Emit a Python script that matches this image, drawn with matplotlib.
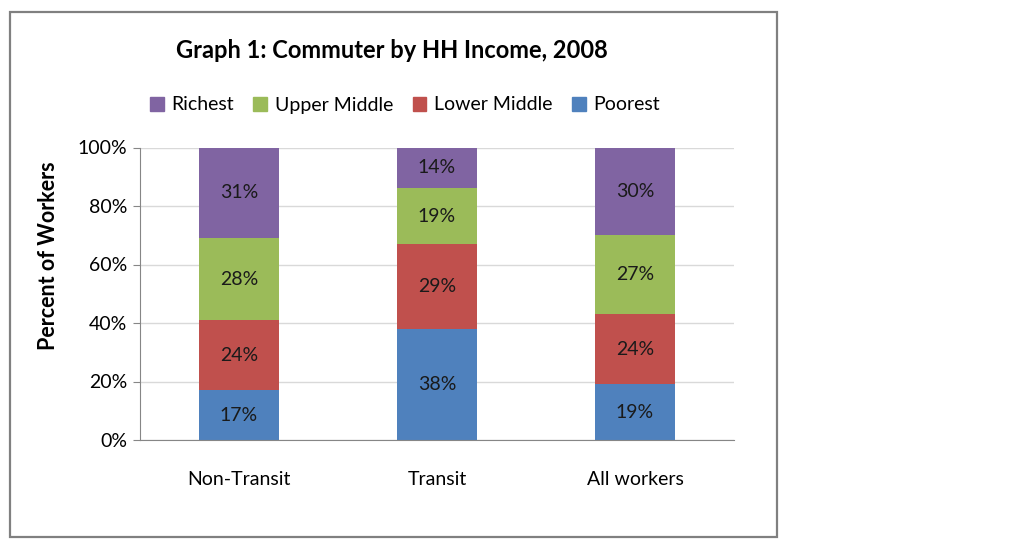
import matplotlib.pyplot as plt
from matplotlib.patches import Rectangle, Patch

plt.rcParams["font.family"] = ["Lato", "DejaVu Sans"]

categories = ["Non-Transit", "Transit", "All workers"]
poorest = [17, 38, 19]
lower_middle = [24, 29, 24]
upper_middle = [28, 19, 27]
richest = [31, 14, 30]

series = [
    ("Poorest", poorest, "#4F81BD"),
    ("Lower Middle", lower_middle, "#C0504D"),
    ("Upper Middle", upper_middle, "#9BBB59"),
    ("Richest", richest, "#8064A2"),
]

W, H = 1017, 551
fig = plt.figure(figsize=(W / 100, H / 100), dpi=100)
ax = fig.add_axes([140 / W, 1 - 440 / H, 594 / W, 292.5 / H])

x = range(len(categories))
bottom = [0] * len(categories)
for name, vals, color in series:
    ax.bar(x, vals, width=0.40, bottom=bottom, color=color, zorder=2)
    for i, v in enumerate(vals):
        ax.text(i, bottom[i] + v / 2, f"{v}%", ha="center", va="center",
                fontsize=14, color="#1a1a1a", zorder=3)
    bottom = [b + v for b, v in zip(bottom, vals)]

ax.set_xlim(-0.5, 2.5)
ax.set_ylim(0, 100)
ax.set_yticks(range(0, 101, 20))
ax.set_yticklabels([f"{t}%" for t in range(0, 101, 20)], fontsize=14)
ax.set_xticks(list(x))
ax.set_xticklabels(categories, fontsize=14)
ax.tick_params(axis="x", length=0, pad=22)
ax.tick_params(axis="y", length=5, color="#868686", pad=4)
ax.yaxis.grid(True, color="#D9D9D9", lw=1, zorder=0)
for s in ("top", "right"):
    ax.spines[s].set_visible(False)
for s in ("left", "bottom"):
    ax.spines[s].set_color("#868686")
ax.set_ylabel("Percent of Workers", fontsize=15.5, fontweight="bold")
ax.yaxis.set_label_coords(-0.137, 0.63)

fig.text(392 / W, 1 - 50 / H, "Graph 1: Commuter by HH Income, 2008",
         ha="center", va="center", fontsize=17, fontweight="bold")

handles = [Patch(color=c, label=n) for n, _, c in reversed(series)]
fig.legend(handles=handles, loc="center", bbox_to_anchor=(405 / W, 1 - 105 / H),
           ncol=4, frameon=False, fontsize=14, handlelength=0.7,
           handleheight=0.7, handletextpad=0.4, columnspacing=1.0)

fig.patches.append(Rectangle((10 / W, 1 - 537 / H), 767 / W, 525 / H,
                             transform=fig.transFigure, fill=False,
                             edgecolor="#808080", lw=1.6))

fig.savefig("out.png", dpi=100, facecolor="white")
